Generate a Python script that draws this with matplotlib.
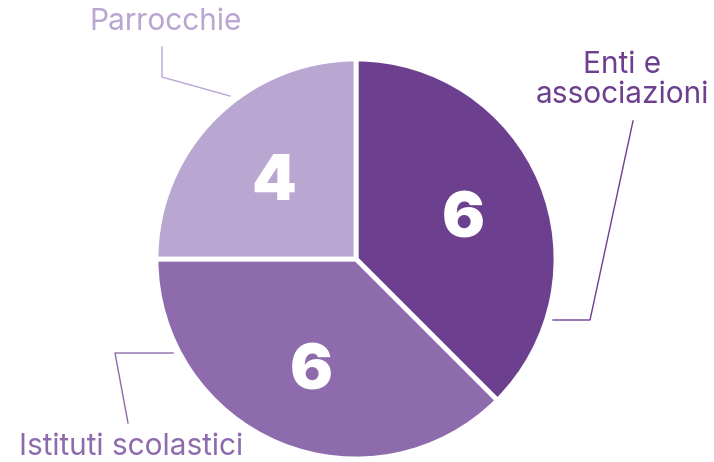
import matplotlib.pyplot as plt

# Data
categories = ['Enti e\nassociazioni', 'Istituti scolastici', 'Parrocchie']
counts = [6, 6, 4]
colors = ['#6c3f8f', '#8e6bad', '#b9a6d1']
text_colors = ['#6c3f8f', '#8e6bad', '#b9a6d1']

plt.rcParams['font.family'] = ['Inter', 'DejaVu Sans']

fig = plt.figure(figsize=(7.14, 4.62), dpi=100)
ax = fig.add_axes([0, 0, 1, 1])

total = sum(counts)
wedges, _, autotexts = ax.pie(
    counts, colors=colors, startangle=90, counterclock=False,
    center=(356, 203), radius=200, frame=True,
    autopct=lambda p: '{:d}'.format(round(p * total / 100)),
    pctdistance=0.58,
    wedgeprops=dict(edgecolor='white', linewidth=3.5),
    textprops=dict(color='white', fontsize=46, fontweight='black'))
for t in autotexts:
    t.set_va('center_baseline')
    t.set_ha('center')

ax.set_xlim(0, 714)
ax.set_ylim(0, 462)
ax.set_aspect('equal')
ax.axis('off')

# labels and leader lines (y measured from the bottom)
ax.text(622, 382, categories[0], color=text_colors[0], fontsize=21.5,
        ha='center', va='center', linespacing=1.1)
ax.plot([633, 590, 553], [341, 142, 142], color=colors[0], lw=1)

ax.text(131, 15, categories[1], color=text_colors[1], fontsize=21.5,
        ha='center', va='center')
ax.plot([173, 115, 128], [109, 109, 39], color=colors[1], lw=1)

ax.text(166, 440, categories[2], color=text_colors[2], fontsize=21.5,
        ha='center', va='center')
ax.plot([162, 162, 230], [415, 385, 366], color=colors[2], lw=1)

fig.savefig('out.png', dpi=100, facecolor='white')
